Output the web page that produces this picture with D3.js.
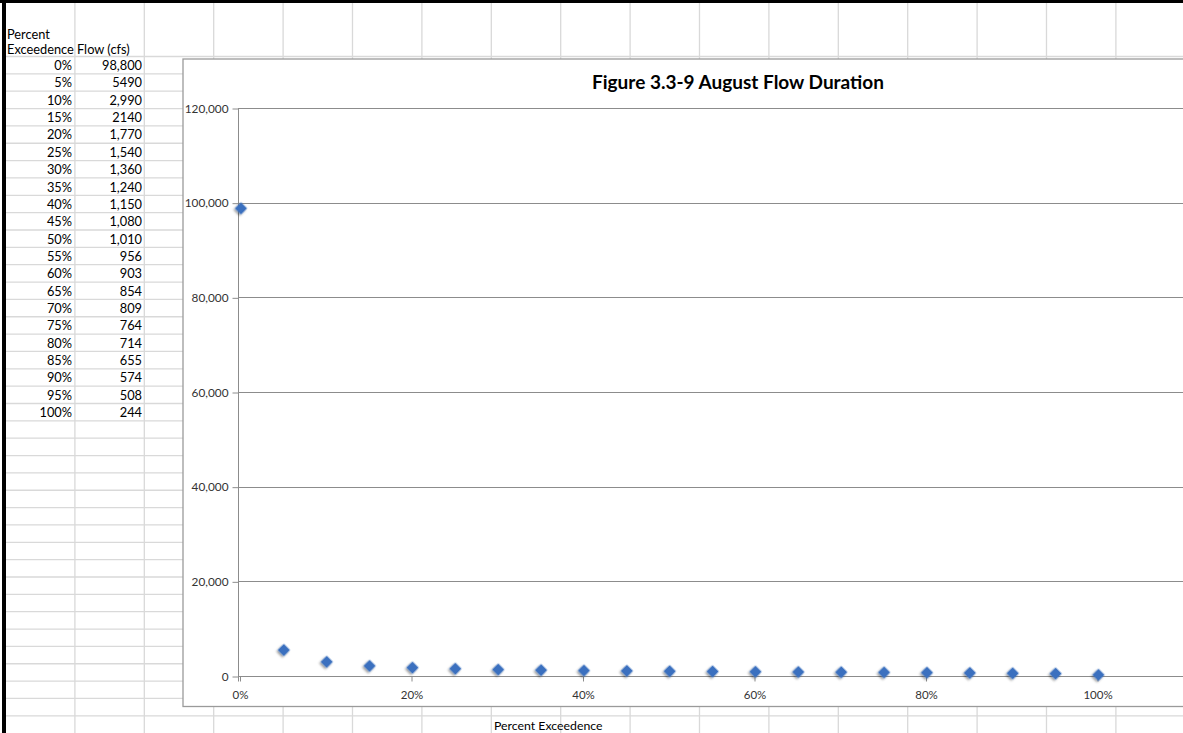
<!DOCTYPE html>
<html>
<head>
<meta charset="utf-8">
<script src="https://cdn.jsdelivr.net/npm/d3@7"></script>
<style>
html,body{margin:0;padding:0;background:#fff;}
svg{display:block;}
</style>
</head>
<body>
<svg id="c" width="1183" height="733"></svg>
<script>
// ---- data ----
const percentLabels = ["0%","5%","10%","15%","20%","25%","30%","35%","40%","45%","50%","55%","60%","65%","70%","75%","80%","85%","90%","95%","100%"];
const percentValues = [0,0.05,0.10,0.15,0.20,0.25,0.30,0.35,0.40,0.45,0.50,0.55,0.60,0.65,0.70,0.75,0.80,0.85,0.90,0.95,1.00];
const flowValues = [98800,5490,2990,2140,1770,1540,1360,1240,1150,1080,1010,956,903,854,809,764,714,655,574,508,244];
const flowLabels = ["98,800","5490","2,990","2140","1,770","1,540","1,360","1,240","1,150","1,080","1,010","956","903","854","809","764","714","655","574","508","244"];
const yTicks = [0,20000,40000,60000,80000,100000,120000];
const xTicks = [0,0.2,0.4,0.6,0.8,1.0];
const chartTitle = "Figure 3.3-9 August Flow Duration";
const xAxisTitle = "Percent Exceedence";
const header1 = ["Percent",""];
const header2 = ["Exceedence","Flow (cfs)"];

const W = 1183, H = 733;
const svg = d3.select("#c");
const font = "Lato, 'Open Sans', sans-serif";

// ---- spreadsheet grid ----
const colW = 69.4, col0 = 5.5;
const headerBottom = 56.5, rowH = 17.35;
const grid = svg.append("g");
const colXs = d3.range(1, 18).map(k => col0 + k*colW);
grid.selectAll("line.col").data(colXs).join("line")
  .attr("x1", d => d).attr("x2", d => d).attr("y1", 3).attr("y2", H)
  .attr("stroke", "#d9d9d9").attr("stroke-width", 1.3);
const rowYs = [headerBottom].concat(d3.range(1, 40).map(k => headerBottom + k*rowH)).filter(y => y < H);
grid.selectAll("line.row").data(rowYs).join("line")
  .attr("x1", 5).attr("x2", W).attr("y1", d => d).attr("y2", d => d)
  .attr("stroke", "#d9d9d9").attr("stroke-width", 1.3);

// black borders
svg.append("rect").attr("x", 0).attr("y", 0).attr("width", W).attr("height", 3).attr("fill", "#000");
svg.append("rect").attr("x", 2).attr("y", 0).attr("width", 4).attr("height", H).attr("fill", "#000");

// table text
const tg = svg.append("g").attr("font-family", font).attr("font-size", 12.8).attr("fill", "#000");
tg.append("text").attr("x", 7).attr("y", 39).text(header1[0]);
tg.append("text").attr("x", 7).attr("y", 54).text(header2[0]);
tg.append("text").attr("x", 77).attr("y", 54).text(header2[1]);
percentLabels.forEach((p, i) => {
  const yb = headerBottom + (i+1)*rowH - 3.8;
  tg.append("text").attr("x", 72).attr("y", yb).attr("text-anchor", "end").text(p);
  tg.append("text").attr("x", 142).attr("y", yb).attr("text-anchor", "end").text(flowLabels[i]);
});
// x axis title in cell below chart
tg.append("text").attr("x", 494).attr("y", 729.5).attr("font-size", 12.3).text(xAxisTitle);

// ---- chart area ----
const cx0 = 183, cy0 = 59, cy1 = 706.5;
svg.append("rect").attr("x", cx0).attr("y", cy0).attr("width", W - cx0 + 5).attr("height", cy1 - cy0)
  .attr("fill", "#fff").attr("stroke", "#9a9a9a").attr("stroke-width", 1.3);

const x = d3.scaleLinear().domain([0, 1.2]).range([239.5, 239.5 + 6*171.5]);
const y = d3.scaleLinear().domain([0, 120000]).range([676, 108]);

// gridlines
svg.append("g").selectAll("line").data(yTicks.filter(d => d > 0)).join("line")
  .attr("x1", 238).attr("x2", W).attr("y1", d => Math.round(y(d)) + 0.5).attr("y2", d => Math.round(y(d)) + 0.5)
  .attr("stroke", "#8c8c8c").attr("stroke-width", 1);

// y axis
const yAxis = svg.append("g").attr("transform", "translate(238.5,0.5)")
  .call(d3.axisLeft(y).tickValues(yTicks).tickSize(6).tickPadding(4).tickFormat(d3.format(",")));
yAxis.select(".domain").attr("stroke", "#8c8c8c").attr("d", `M0,${y(120000)}V${y(0)+5}`);
yAxis.selectAll(".tick line").attr("stroke", "#8c8c8c");
yAxis.selectAll(".tick text").attr("font-family", font).attr("font-size", 11.8).attr("fill", "#333");

// x axis
const xAxis = svg.append("g").attr("transform", `translate(0.5,${Math.round(y(0))+0.5})`)
  .call(d3.axisBottom(x).tickValues(xTicks).tickSize(5).tickPadding(9).tickFormat(d3.format(".0%")));
xAxis.select(".domain").attr("stroke", "#8c8c8c").attr("d", `M238,0H${W}`);
xAxis.selectAll(".tick line").attr("stroke", "#8c8c8c");
xAxis.selectAll(".tick text").attr("font-family", font).attr("font-size", 11.5).attr("fill", "#333");

// title
svg.append("text").attr("x", 738).attr("y", 89).attr("text-anchor", "middle")
  .attr("font-family", font).attr("font-weight", "bold").attr("font-size", 19).attr("fill", "#000")
  .text(chartTitle);

// marker shadow filter
const defs = svg.append("defs");
const f = defs.append("filter").attr("id", "sh").attr("x", "-60%").attr("y", "-60%").attr("width", "220%").attr("height", "220%");
f.append("feGaussianBlur").attr("in", "SourceAlpha").attr("stdDeviation", 1.3).attr("result", "b");
f.append("feOffset").attr("in", "b").attr("dx", 0).attr("dy", 2).attr("result", "o");
f.append("feComponentTransfer").attr("in", "o").attr("result", "o2")
  .append("feFuncA").attr("type", "linear").attr("slope", 0.4);
const fm = f.append("feMerge");
fm.append("feMergeNode").attr("in", "o2");
fm.append("feMergeNode").attr("in", "SourceGraphic");

const sym = d3.symbol(d3.symbolSquare, 76);
svg.append("g").selectAll("path").data(percentValues.map((p, i) => [p, flowValues[i]])).join("path")
  .attr("d", sym)
  .attr("transform", d => `translate(${x(d[0]) + 1.5},${y(d[1])}) rotate(45)`)
  .attr("fill", "#3a70bf").attr("filter", "url(#sh)");
</script>
</body>
</html>
